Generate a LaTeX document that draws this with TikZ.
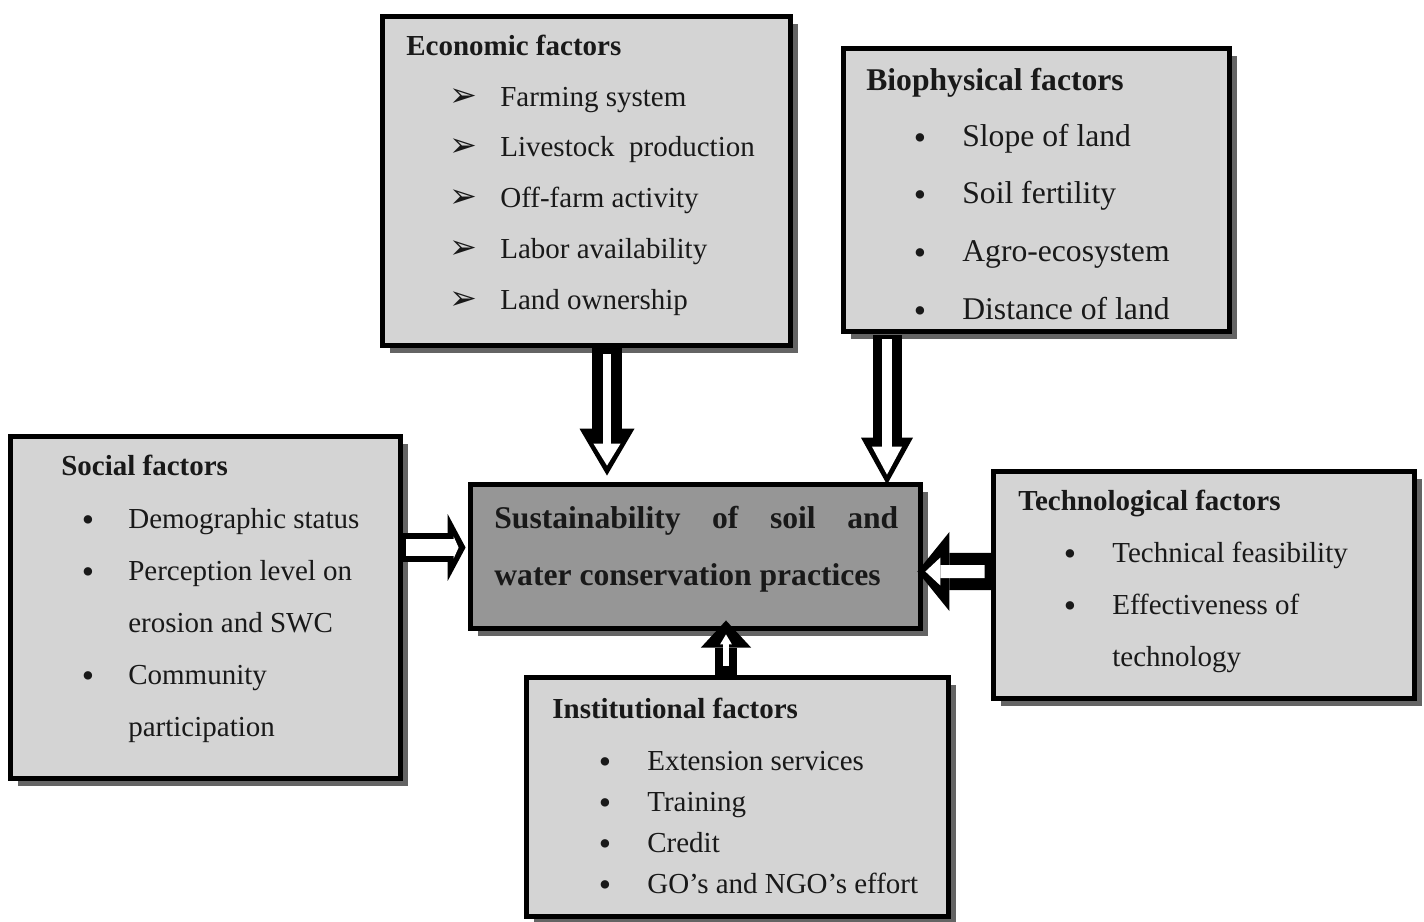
\documentclass[tikz,border=0pt]{standalone}
\usepackage{fontspec}
\setmainfont{Liberation Serif}
\newfontfamily\dingfont{DejaVu Sans}
\usetikzlibrary{arrows.meta,shadows,calc}
\definecolor{box_gray}{RGB}{212,212,212}
\definecolor{core_gray}{RGB}{150,150,150}
\definecolor{shade_gray}{RGB}{100,100,100}
\definecolor{ink}{RGB}{25,25,25}

\begin{document}
\begin{tikzpicture}[x=0.02cm,y=-0.02cm]
    \tikzstyle{box}=[draw=black, line width=2.8pt, fill=box_gray, inner sep=0pt,
        drop shadow={shadow xshift=4.5pt, shadow yshift=-4.5pt, fill=shade_gray, opacity=1}]
    \tikzstyle{core}=[style=box, fill=core_gray]
    \tikzstyle{item}=[inner sep=0pt, anchor=base west, text=ink, font=\fontsize{16.5}{20}\selectfont]
    \tikzstyle{head}=[style=item, font=\fontsize{16.5}{20}\selectfont\bfseries]
    \tikzstyle{dot}=[style=item, anchor=base, font=\fontsize{20}{20}\selectfont]
    \tikzstyle{pipe}=[draw=black]
    \tikzstyle{slit}=[draw=white]

    \fill[white] (0,0) rectangle (1424,921);
    \useasboundingbox (0,0) rectangle (1424,921);

    % boxes
    \node[box, minimum width=8.16cm, minimum height=6.58cm] (eco) at (586.5,181) {};
    \node[box, minimum width=7.72cm, minimum height=5.66cm] (bio) at (1036.5,190) {};
    \node[box, minimum width=7.8cm, minimum height=6.84cm] (soc) at (205.5,607.5) {};
    \node[core, minimum width=9.0cm, minimum height=2.88cm] (sus) at (695.5,556.5) {};
    \node[box, minimum width=8.42cm, minimum height=4.54cm] (tec) at (1204,585) {};
    \node[box, minimum width=8.44cm, minimum height=4.78cm] (ins) at (737.5,797) {};

    % economic
    \node[head] (eco-h) at (406,55) {Economic factors};
    \foreach \t [count=\i from 0] in {Farming system, Livestock\ \ production, Off-farm activity, Labor availability, Land ownership} {
        \node[dot, font=\dingfont\fontsize{19}{20}\selectfont] (eco-b\i) at (463,106+50.8*\i) {➢};
        \node[item] (eco-t\i) at (500,106+50.8*\i) {\t};
    }

    % biophysical
    \node[head, font=\fontsize{18}{20}\selectfont\bfseries] (bio-h) at (866,90) {Biophysical factors};
    \foreach \t [count=\i from 0] in {Slope of land, Soil fertility, Agro-ecosystem, Distance of land} {
        \node[dot] (bio-b\i) at (920,149+57.7*\i) {\textbullet};
        \node[item, font=\fontsize{18}{20}\selectfont] (bio-t\i) at (962,146+57.7*\i) {\t};
    }

    % social
    \node[head] (soc-h) at (61,475) {Social factors};
    \foreach \t [count=\i from 0] in {Demographic status, Perception level on, erosion and SWC, Community, participation}
        \node[item] (soc-t\i) at (128,528+52*\i) {\t};
    \foreach \i in {0,1,3}
        \node[dot] (soc-b\i) at (88,531+52*\i) {\textbullet};

    % technological
    \node[head] (tec-h) at (1018,510) {Technological factors};
    \foreach \t [count=\i from 0] in {Technical feasibility, Effectiveness of, technology}
        \node[item] (tec-t\i) at (1112,562+52*\i) {\t};
    \foreach \i in {0,1}
        \node[dot] (tec-b\i) at (1070,565+52*\i) {\textbullet};

    % institutional
    \node[head] (ins-h) at (552,718) {Institutional factors};
    \foreach \t [count=\i from 0] in {Extension services, Training, Credit, GO’s and NGO’s effort} {
        \node[dot] (ins-b\i) at (605,773+41.3*\i) {\textbullet};
        \node[item] (ins-t\i) at (647,770+41.3*\i) {\t};
    }

    % centre
    \node[item, font=\fontsize{18}{20}\selectfont\bfseries] (sus-t1) at (494,528)
        {\hbox to 8.08cm{Sustainability\hfill of\hfill soil\hfill and}};
    \node[item, font=\fontsize{18}{20}\selectfont\bfseries] (sus-t2) at (494,585)
        {water conservation practices};

    % flows into the centre box
    \draw[pipe, line width=17.1pt, -{Triangle[length=26.7pt,width=31.3pt,line width=0pt]}]
        ($(eco.south)+(20.5,-2.5)$) -- ($(eco.south |- sus.north)+(20.5,-6.5)$);
    \draw[slit, line width=4.6pt, -{Triangle[length=12.5pt,width=15.4pt,line width=0pt]}]
        ($(eco.south)+(20.5,6.5)$) -- ($(eco.south |- sus.north)+(20.5,-16.5)$);

    \draw[pipe, line width=16.5pt, -{Triangle[length=26.7pt,width=29.6pt,line width=0pt]}]
        ($(bio.south)+(-149.5,1.5)$) -- ($(bio.south |- sus.north)+(-149.5,2.5)$);
    \draw[slit, line width=5.7pt, -{Triangle[length=15.9pt,width=17.1pt,line width=0pt]}]
        ($(bio.south)+(-149.5,5.5)$) -- ($(bio.south |- sus.north)+(-149.5,-7.5)$);

    \draw[pipe, line width=16.5pt, -{Triangle[length=10.2pt,width=38.1pt,line width=0pt]}]
        ($(soc.east)+(0,-60)$) -- ($(sus.west)+(-2.5,-9)$);
    \draw[slit, line width=9.7pt, -{Triangle[length=2.8pt,width=12.5pt,line width=0pt]}]
        ($(soc.east)+(3.5,-60)$) -- ($(sus.west)+(-9.5,-9)$);

    \draw[pipe, line width=21.1pt, -{Triangle[length=18.2pt,width=45pt,line width=0pt]}]
        ($(tec.west)+(3.5,-13.5)$) -- ($(sus.east)+(-5.5,15)$);
    \draw[slit, line width=7.4pt, -{Triangle[length=8.5pt,width=15.9pt,line width=0pt]}]
        ($(tec.west)+(-6.5,-13.5)$) -- ($(sus.east)+(2.5,15)$);

    \draw[pipe, line width=12.5pt, -{Triangle[length=15.4pt,width=28.5pt,line width=0pt]}]
        ($(ins.north)+(-11.5,0)$) -- ($(ins.north |- sus.south)+(-11.5,-10.5)$);
    \draw[slit, line width=3.4pt, -{Triangle[length=5.7pt,width=6.8pt,line width=0pt]}]
        ($(ins.north)+(-11.5,-9.5)$) -- ($(ins.north |- sus.south)+(-11.5,3.5)$);
\end{tikzpicture}
\end{document}
